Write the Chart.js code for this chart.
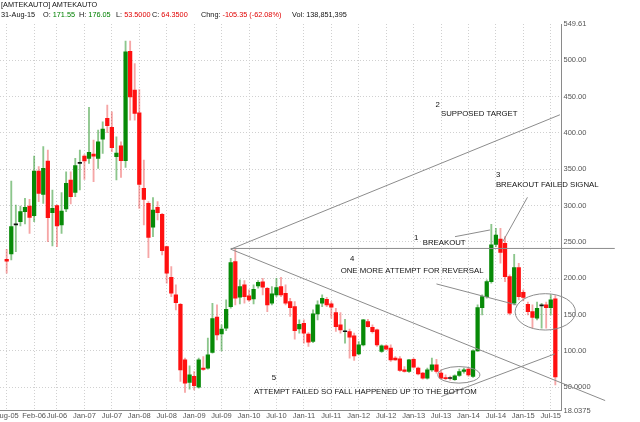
<!DOCTYPE html>
<html>
<head>
<meta charset="utf-8">
<title>AMTEKAUTO monthly</title>
<script src="https://cdn.jsdelivr.net/npm/chart.js@4.4.1/dist/chart.umd.min.js"></script>
<style>
  html, body { margin: 0; padding: 0; background: #fff; overflow: hidden; width: 640px; height: 422px; }
  #wrap { position: absolute; left: -20px; top: 0; width: 660px; height: 422px; }
  .hd { position: absolute; font: 7.3px "Liberation Sans", Arial, sans-serif; color: #111; white-space: nowrap; z-index: 2; line-height: 9px; }
  .up { color: #008000; }
  .dn { color: #e00000; }
</style>
</head>
<body>
<div class="hd" style="left:1px;top:0px">[AMTEKAUTO] AMTEKAUTO</div>
<div class="hd" style="left:1px;top:10px">31-Aug-15</div>
<div class="hd" style="left:43px;top:10px">O: <span class="up">171.55</span></div>
<div class="hd" style="left:79px;top:10px">H: <span class="up">176.05</span></div>
<div class="hd" style="left:116px;top:10px">L: <span class="dn">53.5000</span></div>
<div class="hd" style="left:152px;top:10px">C: <span class="dn">64.3500</span></div>
<div class="hd" style="left:201px;top:10px">Chng: <span class="dn">-105.35 (-62.08%)</span></div>
<div class="hd" style="left:292px;top:10px">Vol: 138,851,395</div>
<div id="wrap"><canvas id="chart"></canvas></div>
<script>
// monthly candles, Aug-05 .. Aug-15 (index 0 = Aug-05)
const open = [
  226.1, 233.4, 273.5, 277.8, 291.6, 299.4, 286.1, 347.4, 315.4, 361.2,
  290.2, 299.8, 273.3, 295.2, 335.1, 318.1, 357.9, 368.0, 364.8, 370.8,
  364.8, 391.4, 419.8, 407.4, 367.1, 382.2, 361.6, 512.2, 458.7, 427.5,
  323.6, 303.0, 270.1, 297.5, 287.9, 243.5, 201.4, 177.1, 164.3, 87.9,
  56.7, 65.0, 50.3, 76.4, 76.4, 97.9, 146.5, 123.6, 131.3, 161.1,
  222.9, 173.9, 190.9, 175.7, 171.6, 189.5, 195.0, 186.3, 165.7, 177.1,
  188.6, 179.4, 168.0, 161.1, 130.4, 138.2, 123.1, 113.0, 151.0, 165.7,
  171.2, 164.8, 152.8, 135.9, 126.5, 126.7, 120.8, 96.1, 108.4, 140.5,
  132.7, 129.0, 99.3, 107.1, 103.9, 90.1, 89.2, 74.1, 71.8, 88.7,
  76.4, 69.5, 62.7, 74.1, 81.0, 69.5, 63.6, 63.1, 60.4, 66.3,
  71.8, 75.0, 64.9, 100.2, 159.7, 174.8, 195.4, 246.7, 254.0, 248.1,
  202.3, 165.7, 214.7, 180.8, 164.3, 154.2, 145.1, 162.0, 163.4, 159.7,
  171.55
];
const high = [
  239.8, 333.7, 300.7, 299.4, 309.9, 308.5, 368.0, 353.4, 380.9, 376.3,
  321.3, 301.0, 317.7, 346.5, 346.5, 364.8, 376.3, 370.0, 434.9, 390.0,
  403.7, 415.2, 438.1, 428.9, 394.6, 387.7, 526.0, 526.0, 495.3, 459.6,
  362.5, 305.3, 310.8, 305.3, 289.3, 244.4, 216.0, 190.9, 165.7, 90.1,
  79.6, 71.8, 90.1, 92.4, 117.6, 165.7, 163.4, 135.9, 170.3, 227.5,
  239.8, 197.7, 196.8, 184.0, 190.9, 196.8, 200.0, 187.6, 188.6, 200.0,
  201.4, 190.9, 172.5, 168.0, 142.8, 142.8, 125.4, 156.5, 168.9, 177.1,
  173.9, 168.0, 158.8, 152.8, 143.7, 130.0, 124.5, 113.0, 143.7, 143.7,
  135.9, 130.0, 108.4, 108.4, 108.4, 92.4, 92.4, 78.7, 88.7, 90.1,
  77.8, 70.5, 76.4, 90.1, 88.7, 74.1, 67.2, 65.4, 67.2, 75.0,
  76.4, 76.4, 101.6, 163.4, 177.1, 197.7, 274.2, 268.7, 268.7, 257.2,
  204.6, 233.0, 220.6, 184.0, 167.1, 163.4, 167.1, 165.7, 167.1, 177.1,
  176.05
];
const low = [
  206.9, 225.2, 236.6, 271.9, 274.6, 261.8, 277.8, 305.3, 303.0, 250.4,
  244.4, 243.5, 261.8, 291.6, 302.1, 312.2, 321.3, 336.0, 357.9, 332.8,
  351.1, 371.7, 400.1, 374.0, 335.1, 338.7, 352.5, 417.5, 417.5, 296.2,
  273.3, 228.4, 257.2, 280.1, 232.1, 193.1, 174.8, 156.5, 58.1, 43.0,
  47.6, 46.6, 49.0, 73.2, 75.0, 97.0, 115.3, 100.0, 128.1, 158.8,
  163.4, 164.8, 165.7, 168.0, 164.8, 186.3, 177.1, 154.2, 163.4, 174.8,
  174.8, 163.4, 147.4, 116.2, 124.5, 110.7, 106.2, 111.6, 142.8, 161.1,
  161.1, 145.1, 126.8, 124.5, 110.7, 90.1, 86.9, 94.7, 107.1, 132.7,
  124.5, 106.2, 97.9, 101.6, 85.6, 86.9, 71.8, 70.9, 70.5, 76.4,
  67.2, 61.3, 61.3, 71.8, 69.5, 61.3, 60.4, 59.9, 59.5, 64.9,
  69.5, 64.9, 63.6, 99.3, 149.7, 172.5, 193.1, 243.5, 220.6, 195.4,
  149.7, 163.4, 170.3, 168.9, 149.7, 131.3, 142.8, 131.3, 131.3, 149.7,
  53.5
];
const close = [
  223.4, 271.0, 274.3, 291.6, 297.5, 283.8, 347.4, 316.8, 351.1, 283.3,
  296.2, 271.9, 292.5, 330.5, 312.2, 354.8, 358.6, 361.2, 373.1, 368.0,
  387.7, 405.1, 409.7, 379.5, 372.2, 361.6, 511.3, 449.5, 426.6, 329.1,
  308.5, 256.3, 293.9, 290.2, 238.0, 206.9, 179.4, 166.6, 74.1, 55.8,
  67.3, 52.2, 87.9, 74.6, 94.7, 144.6, 122.2, 130.0, 157.4, 221.5,
  172.5, 188.6, 174.8, 170.3, 184.9, 194.5, 187.6, 163.4, 178.5, 187.2,
  177.1, 165.7, 159.7, 128.1, 136.8, 124.5, 112.1, 151.0, 163.4, 172.5,
  163.4, 160.2, 133.6, 129.0, 127.0, 119.0, 93.3, 108.4, 142.8, 133.6,
  126.7, 108.4, 107.1, 102.5, 87.8, 87.8, 73.2, 71.8, 87.8, 77.8,
  68.6, 62.7, 74.1, 81.0, 71.8, 62.7, 61.8, 62.2, 65.9, 71.8,
  74.1, 67.2, 100.2, 159.7, 174.8, 195.4, 245.8, 259.5, 235.7, 202.3,
  151.9, 214.7, 174.8, 173.5, 154.2, 146.0, 158.8, 162.5, 159.7, 170.3,
  64.35
];

// axis ticks
const tickIndex = [0, 6, 11, 17, 23, 29, 35, 41, 47, 53, 59, 65, 71, 77, 83, 89, 95, 101, 107, 113, 119];
const tickLabels = ['Aug-05', 'Feb-06', 'Jul-06', 'Jan-07', 'Jul-07', 'Jan-08', 'Jul-08', 'Jan-09', 'Jul-09', 'Jan-10',
  'Jul-10', 'Jan-11', 'Jul-11', 'Jan-12', 'Jul-12', 'Jan-13', 'Jul-13', 'Jan-14', 'Jul-14', 'Jan-15', 'Jul-15'];
const yTicks = [18.0375, 50, 100, 150, 200, 250, 300, 350, 400, 450, 500, 549.61];
const yTickLabels = ['18.0375', '50.0000', '100.00', '150.00', '200.00', '250.00', '300.00', '350.00', '400.00', '450.00', '500.00', '549.61'];

// drawn notes, in (month index, price)
const trendLines = [
  [49, 241, 133, 241],        // breakout level
  [49, 240, 121, 424.8],      // supposed target
  [49, 240, 130.9, 31.8],     // falling line
  [94.0, 192.2, 111.5, 163.4],
  [95.1, 37.4, 119.9, 96.0],
  [98.05, 257.2, 105.7, 266.4],
  [113.9, 311.3, 108.5, 250.3]
];
const ellipses = [
  [98.9, 67.2, 4.6, 11.4],
  [117.8, 153.8, 6.6, 25.0]
];
const notes = [
  [93.8, 438.1, '2'],
  [95.0, 426.7, 'SUPPOSED TARGET'],
  [107.0, 341.9, '3'],
  [107.0, 328.2, 'BREAKOUT FAILED SIGNAL'],
  [89.1, 255.0, '1'],
  [91.0, 248.1, 'BREAKOUT'],
  [75.1, 226.6, '4'],
  [73.05, 210.1, 'ONE MORE ATTEMPT FOR REVERSAL'],
  [58.0, 63.5, '5'],
  [54.1, 44.3, 'ATTEMPT FAILED SO FALL HAPPENED UP TO THE BOTTOM']
];

const FONT = '"Liberation Sans", Arial, sans-serif';
const idx = open.map((_, i) => i);

function bodyColor(i) {
  if (Math.abs(close[i] - open[i]) < 1) return '#111';
  return close[i] >= open[i] ? '#078a07' : '#ff1010';
}
function wickColor(i) {
  return close[i] >= open[i] ? 'rgba(0,128,0,0.45)' : 'rgba(230,0,0,0.35)';
}

const annotate = {
  id: 'annotate',
  afterDraw(chart) {
    const { ctx, scales: { x, y } } = chart;
    const px = v => x.getPixelForValue(v);
    const py = v => y.getPixelForValue(v);
    ctx.save();
    ctx.strokeStyle = '#8c8c8c';
    ctx.lineWidth = 1;
    trendLines.forEach(l => {
      ctx.beginPath();
      ctx.moveTo(px(l[0]), py(l[1]));
      ctx.lineTo(px(l[2]), py(l[3]));
      ctx.stroke();
    });
    ellipses.forEach(e => {
      const rx = Math.abs(px(e[0] + e[2]) - px(e[0]));
      const ry = Math.abs(py(e[1] + e[3]) - py(e[1]));
      ctx.beginPath();
      ctx.ellipse(px(e[0]), py(e[1]), rx, ry, 0, 0, Math.PI * 2);
      ctx.stroke();
    });
    ctx.fillStyle = '#111';
    ctx.font = '7.8px ' + FONT;
    ctx.textBaseline = 'middle';
    notes.forEach(n => ctx.fillText(n[2], px(n[0]), py(n[1])));
    ctx.restore();
  }
};

new Chart(document.getElementById('chart'), {
  type: 'bar',
  data: {
    datasets: [
      {
        label: 'body',
        data: idx.map(i => ({ x: i, y: [open[i], close[i]] })),
        backgroundColor: idx.map(bodyColor),
        barThickness: 3.6,
        minBarLength: 1,
        grouped: false
      },
      {
        label: 'wick',
        data: idx.map(i => ({ x: i, y: [low[i], high[i]] })),
        backgroundColor: idx.map(wickColor),
        barThickness: 1.2,
        grouped: false
      }
    ]
  },
  options: {
    responsive: true,
    maintainAspectRatio: false,
    animation: false,
    layout: { padding: { left: 20, top: 24, right: 0, bottom: 0 } },
    plugins: { legend: { display: false }, tooltip: { enabled: false } },
    scales: {
      x: {
        type: 'linear',
        min: -1.465,
        max: 121.35,
        offset: false,
        afterBuildTicks: s => { s.ticks = tickIndex.map(v => ({ value: v })); },
        afterFit: s => { s.height = 11.4; },
        ticks: {
          autoSkip: false, maxRotation: 0, padding: 1, color: '#555',
          font: { family: FONT, size: 7.5 },
          callback: (v, i) => tickLabels[i]
        },
        grid: { offset: false, drawTicks: false, color: '#d0d0d0' },
        border: { color: '#8a8a8a', dash: [1, 2] }
      },
      y: {
        position: 'right',
        min: 18.0375,
        max: 549.61,
        beginAtZero: false,
        afterBuildTicks: s => { s.ticks = yTicks.map(v => ({ value: v })); },
        afterFit: s => { s.width = 78.5; },
        ticks: {
          autoSkip: false, padding: 2, color: '#555',
          font: { family: FONT, size: 7.5 },
          callback: (v, i) => yTickLabels[i]
        },
        grid: {
          drawTicks: false,
          color: c => (c.tick && (c.tick.value === 18.0375 || c.tick.value === 549.61)) ? 'rgba(0,0,0,0)' : '#d0d0d0'
        },
        border: { color: '#8a8a8a', dash: [1, 2] }
      }
    }
  },
  plugins: [annotate]
});
</script>
</body>
</html>
